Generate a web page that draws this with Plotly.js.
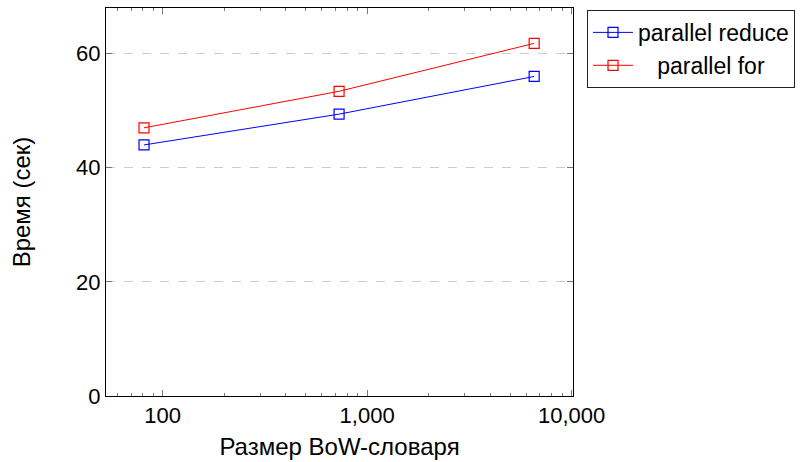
<!DOCTYPE html>
<html>
<head>
<meta charset="utf-8">
<script src="https://cdn.plot.ly/plotly-3.0.1.min.js"></script>
<style>html,body{margin:0;padding:0;background:#fff;}#chart{width:805px;height:462px;}</style>
</head>
<body>
<div id="chart"></div>
<script>
const bowSizes = [81, 729, 6561];
const parallelReduce = [44.0, 49.4, 56.0];
const parallelFor = [47.0, 53.4, 61.8];
const xTickVals = [100, 1000, 10000];
const xTickText = ["100", "1,000", "10,000"];
const yTickVals = [0, 20, 40, 60];

// minor tick positions on the log axis (2..9 × each decade)
const minorVals = [];
for (const d of [10, 100, 1000]) for (let k = 2; k <= 9; k++) minorVals.push(k * d);

const font = "Liberation Sans, DejaVu Sans, sans-serif";
const xRange = [Math.log10(52.8), Math.log10(10160)];

const traces = [
  {x: bowSizes, y: parallelReduce, name: "parallel reduce", mode: "lines+markers",
   line: {color: "#0000ff", width: 1},
   marker: {symbol: "square-open", size: 10, color: "#0000ff", line: {width: 1.2}}},
  {x: bowSizes, y: parallelFor, name: "\u00a0\u00a0\u00a0parallel for", mode: "lines+markers",
   line: {color: "#ff0000", width: 1},
   marker: {symbol: "square-open", size: 10, color: "#ff0000", line: {width: 1.2}}},
  // carrier for the minor-tick overlay axis (draws nothing)
  {x: bowSizes, y: parallelReduce, xaxis: "x2", mode: "none", showlegend: false, hoverinfo: "skip"}
];

const layout = {
  width: 805, height: 462,
  margin: {l: 106, r: 232, t: 8, b: 66},
  paper_bgcolor: "#fff", plot_bgcolor: "#fff",
  font: {family: font, size: 22, color: "#000"},
  showlegend: true,
  legend: {x: 1.03, y: 0.995, xanchor: "left", yanchor: "top",
           bordercolor: "#222", borderwidth: 1, bgcolor: "#fff",
           font: {size: 23}, tracegroupgap: 0, itemwidth: 40},
  xaxis: {
    type: "log", range: xRange,
    tickvals: xTickVals, ticktext: xTickText,
    ticks: "inside", ticklen: 6, tickcolor: "#777", tickwidth: 1,
    showline: true, linecolor: "#000", linewidth: 1, mirror: "ticks",
    showgrid: false, zeroline: false,
    title: {text: "Размер BoW-словаря", standoff: 10, font: {size: 24}},
    tickfont: {size: 22}
  },
  xaxis2: {
    type: "log", range: xRange, overlaying: "x", side: "bottom",
    tickmode: "array", tickvals: minorVals, showticklabels: false,
    ticks: "inside", ticklen: 3, tickcolor: "#777", tickwidth: 1,
    showline: true, linecolor: "#000", linewidth: 1, mirror: "ticks",
    showgrid: false, zeroline: false
  },
  yaxis: {
    range: [0, 68],
    tickvals: yTickVals,
    ticks: "inside", ticklen: 6, tickcolor: "#777", tickwidth: 1,
    showline: true, linecolor: "#000", linewidth: 1, mirror: "ticks",
    showgrid: true, gridcolor: "#cccccc", griddash: "dash", gridwidth: 1,
    zeroline: false,
    title: {text: "Время (сек)", standoff: 38, font: {size: 24}},
    tickfont: {size: 22}
  }
};

Plotly.newPlot("chart", traces, layout, {displayModeBar: false, staticPlot: true});
</script>
</body>
</html>
